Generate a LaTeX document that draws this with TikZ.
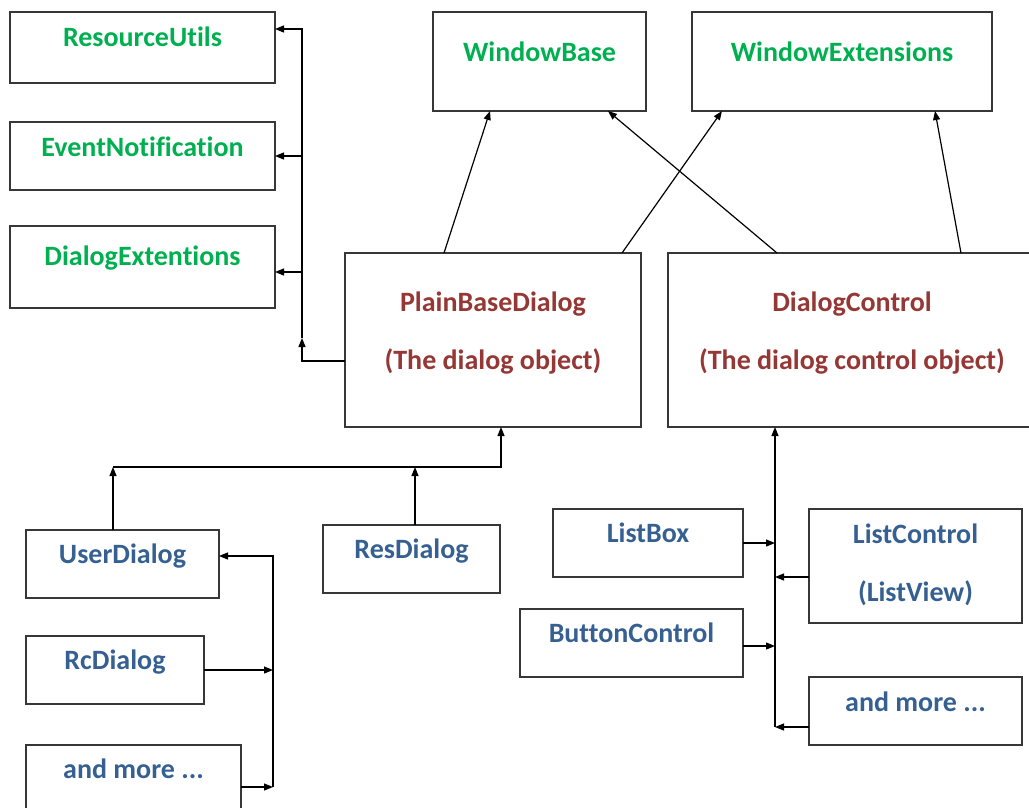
\documentclass[tikz,border=0pt]{standalone}
\usepackage{fontspec}
\setmainfont{Carlito}[Ligatures=CommonOff]
\usetikzlibrary{arrows.meta,calc}
\definecolor{tgreen}{RGB}{0,176,80}
\definecolor{tred}{RGB}{149,55,53}
\definecolor{tblue}{RGB}{54,96,146}
\definecolor{bord}{RGB}{55,55,55}
\begin{document}
\begin{tikzpicture}[x=1pt,y=-1pt,
  box/.style={draw=bord,line width=1.4pt,inner sep=0pt,outer sep=0pt,anchor=north west},
  conn/.style={line width=1.2pt,-{Triangle[length=9pt,width=7pt]}},
  txt/.style={inner sep=0pt,font=\fontsize{28}{33}\selectfont\bfseries,text height=18pt,text depth=0pt},
  gtxt/.style={txt,text=tgreen},
  rtxt/.style={txt,text=tred},
  btxt/.style={txt,text=tblue}]
\useasboundingbox (0,0) rectangle (1029,807);

% boxes
\node[box,minimum width=265pt,minimum height=71pt] (ru) at (10,12) {};
\node[box,minimum width=265pt,minimum height=68pt] (en) at (10,122) {};
\node[box,minimum width=265pt,minimum height=82pt] (de) at (10,226) {};
\node[box,minimum width=213pt,minimum height=99pt] (wb) at (433,12) {};
\node[box,minimum width=300pt,minimum height=99pt] (we) at (692,12) {};
\node[box,minimum width=296pt,minimum height=174pt] (pb) at (345,253) {};
\node[box,minimum width=368pt,minimum height=174pt] (dc) at (668,253) {};
\node[box,minimum width=193pt,minimum height=68pt] (ud) at (26,530) {};
\node[box,minimum width=178pt,minimum height=68pt] (rc) at (26,636) {};
\node[box,minimum width=215pt,minimum height=68pt] (am1) at (26,745) {};
\node[box,minimum width=177pt,minimum height=68pt] (rd) at (323,525) {};
\node[box,minimum width=190pt,minimum height=68pt] (lb) at (553,509) {};
\node[box,minimum width=223pt,minimum height=68pt] (bc) at (520,609) {};
\node[box,minimum width=213pt,minimum height=114pt] (lc) at (809,509) {};
\node[box,minimum width=213pt,minimum height=68pt] (am2) at (809,677) {};

% texts
\node[gtxt] (ruT) at ($(ru.north)+(0,25)$) {ResourceUtils};
\node[gtxt] (enT) at ($(en.north)+(0,25)$) {EventNotification};
\node[gtxt] (deT) at ($(de.north)+(0,30)$) {DialogExtentions};
\node[gtxt] (wbT) at ($(wb.north)+(0,40)$) {WindowBase};
\node[gtxt] (weT) at ($(we.north)+(0,40)$) {WindowExtensions};
\node[rtxt] (pbT1) at ($(pb.north)+(0,49)$) {PlainBaseDialog};
\node[rtxt] (pbT2) at ($(pb.north)+(0,107)$) {(The dialog object)};
\node[rtxt] (dcT1) at (852,302) {DialogControl};
\node[rtxt] (dcT2) at (852,360) {(The dialog control object)};
\node[btxt] (udT) at ($(ud.north)+(0,24)$) {UserDialog};
\node[btxt] (rcT) at ($(rc.north)+(0,24)$) {RcDialog};
\node[btxt] (am1T) at ($(am1.north)+(0,24)$) {and more ...};
\node[btxt] (rdT) at ($(rd.north)+(0,24)$) {ResDialog};
\node[btxt] (lbT) at ($(lb.north)+(0,24)$) {ListBox};
\node[btxt] (bcT) at ($(bc.north)+(0,24)$) {ButtonControl};
\node[btxt] (lcT1) at ($(lc.north)+(0,25)$) {ListControl};
\node[btxt] (lcT2) at ($(lc.north)+(0,83)$) {(ListView)};
\node[btxt] (am2T) at ($(am2.north)+(0,25)$) {and more ...};

% top-left bus
\coordinate (tlJ) at (302,338);
\draw[conn] (pb.west |- 0,361) -| (tlJ);
\draw[conn] (tlJ) |- (ru.east |- 0,29);
\draw[conn] (tlJ |- en.east) -- (en.east);
\draw[conn] (tlJ |- 0,272) -- (de.east |- 0,272);

% top inheritance arrows
\draw[conn] (pb.north -| 444,0) -- (wb.south -| 490,0);
\draw[conn] (pb.north -| 622,0) -- (we.south -| 722,0);
\draw[conn] (dc.north -| 777,0) -- (wb.south -| 608,0);
\draw[conn] (dc.north -| 961,0) -- (we.south -| 935,0);

% bottom-left
\coordinate (blH) at (113,467);
\draw[conn] (blH) -| (pb.south -| 501,0);
\draw[conn] (ud.north -| blH) -- (blH);
\draw[conn] (rd.north -| 415,0) -- (blH -| 415,0);
\coordinate (blB) at (273,787);
\draw[conn] (blB) |- (ud.east |- 0,556);
\draw[conn] (rc.east) -- (rc.east -| blB);
\draw[conn] (am1.east |- blB) -- (blB);

% bottom-right
\coordinate (brB) at (775,727);
\draw[conn] (brB) -- (dc.south -| brB);
\draw[conn] (lb.east |- 0,543) -- (brB |- 0,543);
\draw[conn] (bc.east |- 0,646) -- (brB |- 0,646);
\draw[conn] (lc.west |- 0,577) -- (brB |- 0,577);
\draw[conn] (am2.west |- brB) -- (brB);
\end{tikzpicture}
\end{document}
